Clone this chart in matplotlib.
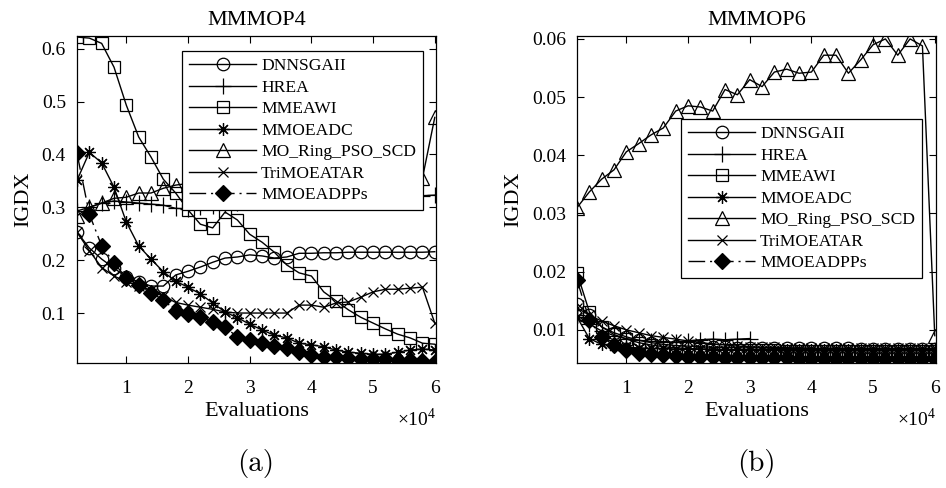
import matplotlib
matplotlib.use("Agg")
import matplotlib.pyplot as plt

plt.rcParams['font.family'] = ['Liberation Serif', 'DejaVu Serif']
plt.rcParams['mathtext.fontset'] = 'custom'
plt.rcParams['mathtext.rm'] = 'Liberation Serif'

# evaluations, in units of 1e4
evals = [0.2, 0.4, 0.6, 0.8, 1.0, 1.2, 1.4, 1.6, 1.8, 2.0,
         2.2, 2.4, 2.6, 2.8, 3.0, 3.2, 3.4, 3.6, 3.8, 4.0,
         4.2, 4.4, 4.6, 4.8, 5.0, 5.2, 5.4, 5.6, 5.8, 6.0]

names = ['DNNSGAII', 'HREA', 'MMEAWI', 'MMOEADC', 'MO_Ring_PSO_SCD', 'TriMOEATAR', 'MMOEADPPs']

# MMMOP4
p4_dnnsgaii = [0.253, 0.223, 0.202, 0.185, 0.168, 0.159, 0.151, 0.151, 0.172, 0.179,
               0.187, 0.196, 0.204, 0.206, 0.210, 0.208, 0.204, 0.206, 0.213, 0.213,
               0.214, 0.214, 0.215, 0.215, 0.215, 0.215, 0.215, 0.215, 0.215, 0.216]
p4_hrea = [0.293, 0.300, 0.308, 0.312, 0.310, 0.308, 0.306, 0.304, 0.298, 0.297,
           0.300, 0.302, 0.305, 0.308, 0.310, 0.311, 0.313, 0.315, 0.315, 0.317,
           0.318, 0.319, 0.320, 0.320, 0.320, 0.321, 0.321, 0.322, 0.322, 0.323]
p4_mmeawi = [0.622, 0.620, 0.610, 0.565, 0.493, 0.433, 0.395, 0.353, 0.327, 0.295,
             0.268, 0.261, 0.291, 0.276, 0.249, 0.234, 0.215, 0.191, 0.176, 0.170,
             0.140, 0.123, 0.106, 0.092, 0.081, 0.070, 0.060, 0.053, 0.043, 0.041]
p4_mmoeadc = [0.351, 0.404, 0.384, 0.338, 0.272, 0.227, 0.202, 0.178, 0.160, 0.149,
              0.136, 0.119, 0.102, 0.091, 0.079, 0.068, 0.058, 0.053, 0.043, 0.040,
              0.036, 0.030, 0.026, 0.024, 0.022, 0.022, 0.026, 0.030, 0.032, 0.030]
p4_moring = [0.284, 0.300, 0.308, 0.317, 0.319, 0.327, 0.327, 0.336, 0.342, 0.345,
             0.348, 0.350, 0.352, 0.350, 0.353, 0.355, 0.356, 0.354, 0.357, 0.358,
             0.356, 0.359, 0.360, 0.358, 0.360, 0.361, 0.359, 0.360, 0.355, 0.470]
p4_trimoeatar = [0.253, 0.218, 0.186, 0.170, 0.159, 0.152, 0.143, 0.132, 0.120, 0.115,
                 0.111, 0.107, 0.102, 0.100, 0.100, 0.100, 0.100, 0.100, 0.115, 0.115,
                 0.111, 0.119, 0.121, 0.130, 0.140, 0.145, 0.145, 0.147, 0.149, 0.081]
p4_mmoeadpps = [0.402, 0.287, 0.227, 0.195, 0.166, 0.153, 0.138, 0.125, 0.104, 0.098,
                0.093, 0.083, 0.073, 0.055, 0.049, 0.044, 0.038, 0.034, 0.026, 0.020,
                0.017, 0.017, 0.015, 0.014, 0.014, 0.013, 0.012, 0.012, 0.010, 0.008]

# MMMOP6 (HREA stops at 3e4)
p6_dnnsgaii = [0.0145, 0.0125, 0.0105, 0.0095, 0.0088, 0.0082, 0.0078, 0.0075, 0.0073, 0.0072,
               0.0071, 0.0070, 0.0070, 0.0069, 0.0069, 0.0069, 0.0068, 0.0068, 0.0068, 0.0068,
               0.0068, 0.0068, 0.0068, 0.0067, 0.0067, 0.0067, 0.0067, 0.0067, 0.0067, 0.0067]
p6_hrea = [0.0125, 0.0110, 0.0098, 0.0090, 0.0085, 0.0082, 0.0080, 0.0079, 0.0079, 0.0081,
           0.0083, 0.0084, 0.0083, 0.0084, 0.0085]
p6_mmeawi = [0.0198, 0.0131, 0.0105, 0.0092, 0.0084, 0.0078, 0.0074, 0.0071, 0.0069, 0.0068,
             0.0067, 0.0066, 0.0066, 0.0065, 0.0065, 0.0065, 0.0065, 0.0064, 0.0064, 0.0064,
             0.0064, 0.0064, 0.0064, 0.0064, 0.0064, 0.0064, 0.0064, 0.0064, 0.0064, 0.0064]
p6_mmoeadc = [0.0122, 0.0085, 0.0075, 0.0072, 0.0070, 0.0069, 0.0068, 0.0068, 0.0067, 0.0067,
              0.0067, 0.0066, 0.0066, 0.0066, 0.0066, 0.0066, 0.0066, 0.0066, 0.0066, 0.0066,
              0.0066, 0.0066, 0.0066, 0.0066, 0.0066, 0.0066, 0.0066, 0.0066, 0.0066, 0.0066]
p6_moring = [0.0310, 0.0337, 0.0359, 0.0375, 0.0406, 0.0420, 0.0435, 0.0447, 0.0476, 0.0485,
             0.0483, 0.0476, 0.0513, 0.0504, 0.0530, 0.0518, 0.0543, 0.0548, 0.0541, 0.0543,
             0.0572, 0.0572, 0.0541, 0.0564, 0.0590, 0.0600, 0.0572, 0.0600, 0.0588, 0.0090]
p6_trimoeatar = [0.0138, 0.0125, 0.0115, 0.0107, 0.0100, 0.0095, 0.0090, 0.0087, 0.0084, 0.0081,
                 0.0078, 0.0076, 0.0074, 0.0072, 0.0071, 0.0070, 0.0070, 0.0069, 0.0069, 0.0068,
                 0.0068, 0.0068, 0.0068, 0.0068, 0.0068, 0.0068, 0.0068, 0.0068, 0.0068, 0.0068]
p6_mmoeadpps = [0.0186, 0.0117, 0.0087, 0.0074, 0.0066, 0.0060, 0.0058, 0.0056, 0.0055, 0.0054,
                0.0053, 0.0053, 0.0052, 0.0052, 0.0051, 0.0051, 0.0051, 0.0051, 0.0050, 0.0050,
                0.0050, 0.0050, 0.0050, 0.0050, 0.0050, 0.0050, 0.0050, 0.0050, 0.0050, 0.0050]

dashdot = (0, (12, 3.5, 1.5, 3.5))
styles = [
    dict(marker='o', linestyle='-', mfc='none'),
    dict(marker='+', linestyle='-', mfc='none'),
    dict(marker='s', linestyle='-', mfc='none'),
    dict(marker=(8, 2, 0), linestyle='-', mfc='none'),
    dict(marker='^', linestyle='-', mfc='none'),
    dict(marker='x', linestyle='-', mfc='none'),
    dict(marker='D', linestyle=dashdot, mfc='black'),
]
msizes = [9, 11, 8.5, 9, 10, 7, 8.5]


def draw(ax, series, title, ylim, yticks, yticklabels, legend_anchor):
    for name, ys, st, ms in zip(names, series, styles, msizes):
        ax.plot(evals[:len(ys)], ys, color='black', lw=1.0, mec='black',
                mew=0.9, ms=ms, label=name, **st)
    ax.set_xlim(0.2, 6.02)
    ax.set_ylim(*ylim)
    ax.set_xticks([1, 2, 3, 4, 5, 6])
    ax.set_xticklabels(['1', '2', '3', '4', '5', '6'])
    ax.set_yticks(yticks)
    ax.set_yticklabels(yticklabels)
    ax.tick_params(direction='in', top=True, right=True, length=5, width=0.8,
                   labelsize=14)
    ax.tick_params(axis='y', pad=8)
    ax.tick_params(axis='x', pad=12)
    for s in ax.spines.values():
        s.set_linewidth(0.9)
    ax.set_title(title, fontsize=16, pad=8)
    ax.set_xlabel('Evaluations', fontsize=16, labelpad=4)
    ax.set_ylabel('IGDX', fontsize=16, labelpad=6)
    ax.text(1.0, -0.135, r'$\times10^{\mathrm{4}}$', transform=ax.transAxes,
            ha='right', va='top', fontsize=14)
    leg = ax.legend(loc='upper right', bbox_to_anchor=legend_anchor,
                    bbox_transform=fig.transFigure, borderaxespad=0,
                    fontsize=12.6, handlelength=3.8, handletextpad=0.3,
                    labelspacing=0.3, borderpad=0.4, frameon=True, fancybox=False,
                    framealpha=1, edgecolor='black')
    leg.get_frame().set_linewidth(0.9)


fig = plt.figure(figsize=(9.46, 4.88), dpi=100)
ax1 = fig.add_axes([77 / 946, 125 / 488, 359 / 946, 327 / 488])
ax2 = fig.add_axes([577 / 946, 125 / 488, 359 / 946, 327 / 488])

draw(ax1, [p4_dnnsgaii, p4_hrea, p4_mmeawi, p4_mmoeadc, p4_moring, p4_trimoeatar, p4_mmoeadpps],
     'MMMOP4', (0.0055, 0.624), [0.1, 0.2, 0.3, 0.4, 0.5, 0.6],
     ['0.1', '0.2', '0.3', '0.4', '0.5', '0.6'], (423 / 946, 1 - 51 / 488))
draw(ax2, [p6_dnnsgaii, p6_hrea, p6_mmeawi, p6_mmoeadc, p6_moring, p6_trimoeatar, p6_mmoeadpps],
     'MMMOP6', (0.0043, 0.0605), [0.01, 0.02, 0.03, 0.04, 0.05, 0.06],
     ['0.01', '0.02', '0.03', '0.04', '0.05', '0.06'], (922 / 946, 1 - 119 / 488))

fig.text(256 / 946, 1 - 463 / 488, '(a)', family='cmr10', fontsize=21, ha='center', va='center')
fig.text(756 / 946, 1 - 463 / 488, '(b)', family='cmr10', fontsize=21, ha='center', va='center')

fig.savefig('out.png', dpi=100)
